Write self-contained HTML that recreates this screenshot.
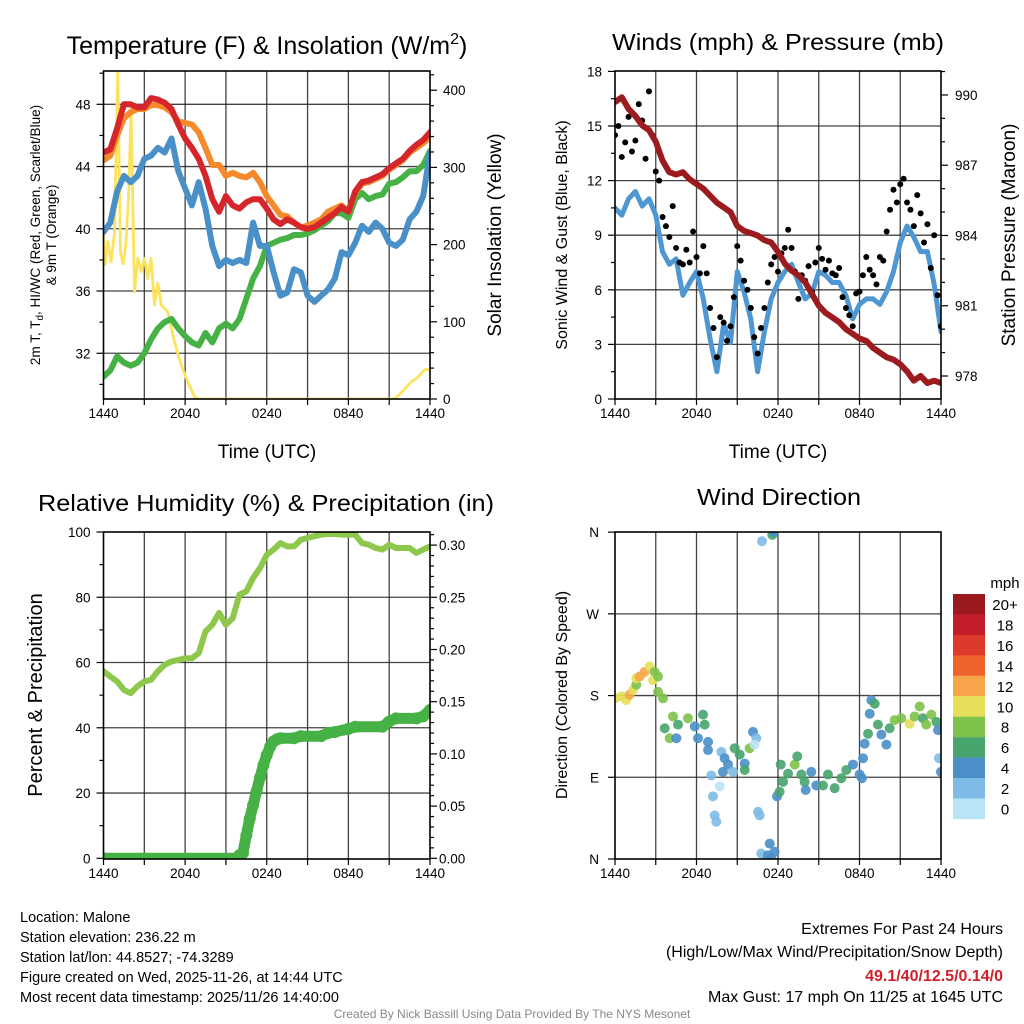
<!DOCTYPE html>
<html><head><meta charset="utf-8"><title>Malone Meteogram</title>
<style>
html,body{margin:0;padding:0;background:#fff;}
svg{display:block;font-family:"Liberation Sans",Arial,sans-serif;}
</style></head>
<body>
<svg id="fig" width="1024" height="1024" viewBox="0 0 1024 1024" xmlns="http://www.w3.org/2000/svg">
<defs>
<clipPath id="c1"><rect x="103.5" y="71" width="326.5" height="328"/></clipPath>
<clipPath id="c2"><rect x="615" y="71" width="326" height="328"/></clipPath>
<clipPath id="c3"><rect x="103.5" y="532" width="326.5" height="327"/></clipPath>
<clipPath id="c4"><rect x="615" y="532" width="326" height="327"/></clipPath>
</defs>
<g id="grid"></g>
<g id="series"></g>
<g id="axes"></g>

<text x="267" y="54" font-size="25" text-anchor="middle">Temperature (F) &amp; Insolation (W/m<tspan dy="-10" font-size="16">2</tspan><tspan dy="10">)</tspan></text>
<text x="778" y="50" font-size="23" text-anchor="middle" textLength="332" lengthAdjust="spacingAndGlyphs">Winds (mph) &amp; Pressure (mb)</text>
<text x="266" y="511" font-size="23" text-anchor="middle" textLength="456" lengthAdjust="spacingAndGlyphs">Relative Humidity (%) &amp; Precipitation (in)</text>
<text x="779" y="505" font-size="23" text-anchor="middle" textLength="164" lengthAdjust="spacingAndGlyphs">Wind Direction</text>

<text x="267" y="458" font-size="19" text-anchor="middle">Time (UTC)</text>
<text x="778" y="458" font-size="19" text-anchor="middle">Time (UTC)</text>

<text transform="translate(40,235) rotate(-90)" font-size="13.5" text-anchor="middle">2m T, T<tspan font-size="10" dy="3">d</tspan><tspan dy="-3">, HI/WC (Red, Green, Scarlet/Blue)</tspan></text>
<text transform="translate(56,235) rotate(-90)" font-size="13.5" text-anchor="middle">&amp; 9m T (Orange)</text>
<text transform="translate(501,235) rotate(-90)" font-size="19" text-anchor="middle">Solar Insolation (Yellow)</text>
<text transform="translate(567,235) rotate(-90)" font-size="16" text-anchor="middle">Sonic Wind &amp; Gust (Blue, Black)</text>
<text transform="translate(1015,235) rotate(-90)" font-size="19" text-anchor="middle">Station Pressure (Maroon)</text>
<text transform="translate(42,695) rotate(-90)" font-size="20" text-anchor="middle">Percent &amp; Precipitation</text>
<text transform="translate(567,695) rotate(-90)" font-size="16" text-anchor="middle">Direction (Colored By Speed)</text>

<g id="cbar"></g>
<text x="1005" y="588" font-size="15" text-anchor="middle">mph</text>

<g font-size="14.5">
<text x="20" y="922">Location: Malone</text>
<text x="20" y="942">Station elevation: 236.22 m</text>
<text x="20" y="962">Station lat/lon: 44.8527; -74.3289</text>
<text x="20" y="982">Figure created on Wed, 2025-11-26, at 14:44 UTC</text>
<text x="20" y="1002">Most recent data timestamp: 2025/11/26 14:40:00</text>
</g>
<g font-size="16" text-anchor="end">
<text x="1003" y="934">Extremes For Past 24 Hours</text>
<text x="1003" y="957">(High/Low/Max Wind/Precipitation/Snow Depth)</text>
<text x="1003" y="981" fill="#d0202a" font-weight="bold">49.1/40/12.5/0.14/0</text>
<text x="1003" y="1002">Max Gust: 17 mph On 11/25 at 1645 UTC</text>
</g>
<text x="512" y="1018" font-size="12" fill="#888" text-anchor="middle">Created By Nick Bassill Using Data Provided By The NYS Mesonet</text>
</svg>

<script>
// ---- data (half-hourly unless noted) ----
const timeLabels = ["1440","2040","0240","0840","1440"];
const tempRed = [44.9,45.1,46.45,48.0,48.0,47.8,47.8,48.4,48.3,48.1,47.7,46.7,45.8,45.2,44.5,43.4,41.9,41.1,42.1,41.5,41.3,41.7,41.9,41.9,41.3,40.6,40.3,40.6,40.4,40.1,40.0,40.1,40.4,40.7,41.0,41.4,41.1,42.4,43.0,43.1,43.3,43.5,43.9,44.2,44.5,45.0,45.4,45.7,46.2];
const temp9mOrange = [44.4,44.7,46.0,47.1,47.5,47.7,47.7,47.95,47.95,47.8,47.5,46.9,46.8,46.7,46.2,45.2,44.1,44.1,43.4,43.6,43.4,43.3,43.6,43.0,42.1,41.5,40.9,40.8,40.4,40.1,40.2,40.4,40.6,41.1,41.3,41.5,41.1,42.3,42.9,43.0,43.2,43.4,43.8,44.1,44.4,44.9,45.2,45.5,45.9];
const dewGreen = [30.5,30.9,31.8,31.4,31.2,31.4,32.0,32.9,33.6,34.0,34.2,33.6,33.1,32.7,32.5,33.3,32.7,33.6,33.9,33.6,34.2,35.5,36.8,37.6,38.9,39.1,39.3,39.4,39.6,39.6,39.7,39.9,40.2,40.5,41.0,41.0,40.7,41.9,42.3,41.9,42.1,42.2,42.9,43.0,43.3,43.7,43.7,44.1,45.0];
const windChillBlue = [39.8,40.4,42.4,43.4,43.0,43.4,44.5,44.7,45.2,44.9,45.8,43.7,42.6,41.5,43.0,41.3,38.9,37.6,38.0,37.8,38.0,37.8,40.4,38.9,38.9,37.2,35.7,35.9,37.4,37.2,35.7,35.3,35.7,36.1,36.8,38.5,38.3,39.1,40.2,39.8,40.4,40.0,39.1,38.9,39.3,40.6,41.1,42.1,44.9];
const insolHours = [0,0.12,0.32,0.56,0.81,1.05,1.25,1.45,1.64,1.84,2.03,2.28,2.52,2.77,3.01,3.26,3.5,3.75,4.0,4.24,4.73,5.22,5.71,6.2,6.69,6.94,21.4,22.1,22.6,23.1,23.6,24];
const insolValues = [212,174,204,178,215,430,190,175,200,260,377,139,182,165,182,156,182,122,150,122,113,74,44,22,3,0,0,12,22,28,38,38];
const pressure = [989.7,989.9,989.4,989.1,988.7,988.5,988.0,987.2,986.7,986.6,986.7,986.4,986.2,986.0,985.7,985.4,985.2,985.0,984.4,984.2,984.1,984.0,983.8,983.7,983.3,982.8,982.5,982.3,982.0,981.5,981.0,980.7,980.5,980.3,980.0,979.8,979.6,979.5,979.2,979.0,978.8,978.7,978.5,978.2,977.8,978.0,977.7,977.8,977.7];
const windSpeed = [10.5,10.1,11.0,11.4,10.6,11.0,10.1,8.1,7.4,7.7,5.7,6.4,7.0,5.5,3.3,1.5,4.1,3.1,7.0,5.9,4.4,1.5,3.7,5.5,6.4,7.0,7.4,6.4,5.5,5.8,7.0,6.8,6.4,6.4,5.7,4.4,5.2,5.5,5.5,5.2,5.9,7.0,8.6,9.5,8.9,8.1,8.1,6.3,3.7];
// gusts: quarter-hourly
const windGust = [14.5,15.0,13.3,14.1,15.5,13.6,14.2,16.2,15.3,13.2,16.9,14.5,12.5,12.0,10.0,9.5,8.9,10.6,8.3,7.5,7.4,8.2,7.5,9.2,7.8,6.9,8.4,6.9,5.0,3.9,2.3,4.5,4.2,3.2,4.0,5.6,8.4,7.6,6.5,6.0,5.0,3.4,2.5,3.9,5.0,6.4,7.4,7.8,7.0,8.0,8.3,9.3,8.3,7.0,5.5,6.8,6.5,7.3,5.9,7.5,8.3,7.7,7.1,7.6,6.9,6.8,7.2,5.6,5.0,4.6,4.0,5.8,5.9,6.8,7.8,7.1,6.8,6.3,7.8,7.6,9.2,10.4,11.5,10.8,11.8,12.1,10.8,10.4,9.5,11.2,10.2,8.6,9.6,7.2,9.0,5.7,4.0];
const rhValues = [57.3,55.7,54.2,51.6,50.6,52.7,54.2,54.7,57.3,59.3,60.3,60.8,61.3,61.3,62.9,69.5,71.6,75.2,71.6,73.6,80.8,81.8,85.9,88.9,93.0,94.6,96.6,95.6,95.6,97.6,98.2,98.7,99.2,99.4,99.4,99.2,99.2,99.2,96.6,96.1,95.1,94.6,96.1,95.1,95.1,95.1,93.6,94.6,95.6];
const precipHours = [0,9.75,10,10.25,10.5,10.75,11,11.25,11.5,11.75,12,12.25,12.5,12.75,13,14,14.5,16,16.5,17,18,18.5,20.5,21,21.5,23,23.5,24];
const precipValues = [0,0,0.003,0.005,0.022,0.038,0.051,0.064,0.077,0.089,0.099,0.107,0.112,0.114,0.115,0.115,0.117,0.117,0.120,0.121,0.124,0.126,0.126,0.131,0.134,0.134,0.136,0.142];
const dirHours = [0,0.47,0.83,1.08,1.33,1.57,1.57,1.82,2.18,2.55,2.92,2.8,3.17,3.17,3.53,3.66,4.02,4.27,4.64,4.52,5.37,5.87,6.11,6.48,6.6,6.85,6.85,7.09,7.21,7.34,7.46,7.83,8.07,7.71,7.95,8.32,8.69,8.81,9.18,9.55,9.55,9.91,10.16,10.4,10.28,10.53,10.65,10.77,11.26,11.39,11.51,11.75,10.82,11.58,11.68,11.93,12.12,12.2,12.37,12.74,13.23,13.42,13.72,13.96,14.04,14.45,14.82,15.31,15.68,16.17,16.66,17.03,17.52,18.01,18.18,18.26,18.38,18.63,18.75,18.87,19.12,19.36,19.61,19.98,20.22,20.59,21.08,21.69,22.06,22.43,22.67,22.91,23.29,23.66,23.78,23.85,24.0];
const dirDegrees = [177,179,175,181,186,192,199,201,206,212,206,197,201,184,177,144,133,157,148,133,155,146,133,159,148,129,120,92,69,48,41,118,111,80,96,104,96,122,115,105,98,122,140,133,126,52,48,6,4,17,1,8,350,357,360,69,74,104,85,94,104,113,93,85,76,96,81,81,93,78,89,98,104,93,89,111,127,138,160,175,171,148,137,126,144,153,155,149,157,168,155,148,159,151,142,111,96];
const dirSpeeds = [10.5,11,11,12.5,11,9,11,13,13,11,9,11,9,8.5,8.5,7,9,9,7,5,9,5,5,7,7,5,5,3,3,3,3,3,5,1,5,5,3,7,7,5,7,9,5,3,1,3,3,3,5,5,5,5,3,7,5,5,7,7,7,7,9,7,7,7,5,5,5,7,7,7,7,7,5,5,5,5,5,7,5,5,7,7,5,5,7,9,9,11,9,9,7,9,9,7,5,3,5];
const cbarLabels = ["20+","18","16","14","12","10","8","6","4","2","0"];
const cbarColors = ["#9b1a1f","#c41e2a","#dd3a2c","#ef6229","#f6a648","#e6df59","#7dc24a","#46a46c","#4a8fc8","#7ebbe6","#b9e3f8"];

// ---- helpers ----
const NS = "http://www.w3.org/2000/svg";
const G = document.getElementById("grid"), S = document.getElementById("series"), A = document.getElementById("axes"), CB = document.getElementById("cbar");
function mk(tag, attrs, parent){ const e=document.createElementNS(NS,tag); for(const k in attrs) e.setAttribute(k,attrs[k]); parent.appendChild(e); return e; }

const P = {
  p1:{x0:103.5,x1:430,y0:71,y1:399},
  p2:{x0:615,x1:941,y0:71,y1:399},
  p3:{x0:103.5,x1:430,y0:532,y1:859},
  p4:{x0:615,x1:941,y0:532,y1:859}
};
function xs(p,h){ return p.x0 + (p.x1-p.x0)*h/24; }
const yTemp = v => 104.3 + (48-v)*15.56;
const yInsol = v => 399 - v*0.772;
const yWind = v => 399 - v*18.2;
const yPres = v => 376 - (v-978)*23.42;
const yRH = v => 858.3 - v*3.263;
const yPrecip = v => 858.3 - v*1044;
const yDir = v => 859 - v*0.908;

function hLine(p,y,name){ const l=mk("line",{x1:p.x0,x2:p.x1,y1:y,y2:y,stroke:"#222","stroke-width":1.3,"stroke-opacity":0.85},G);
  
   }
function vLine(p,x,name){ const l=mk("line",{x1:x,x2:x,y1:p.y0,y2:p.y1,stroke:"#222","stroke-width":1.3,"stroke-opacity":0.85},G);
  
   }
function tick(x1,y1,x2,y2,name){ const l=mk("line",{x1:x1,y1:y1,x2:x2,y2:y2,stroke:"#000","stroke-width":1.2},A);
  
   }
function label(x,y,txt,anchor,name,size){ const t=mk("text",{x:x,y:y,"font-size":size||13.5,"text-anchor":anchor},A); t.textContent=txt;
  
   }
function frame(p,name){ const r=mk("rect",{x:p.x0,y:p.y0,width:p.x1-p.x0,height:p.y1-p.y0,fill:"none",stroke:"#000","stroke-width":1.6},A);
  
   }
function xAxis(p,tag){
  for(let h=3;h<24;h+=3) vLine(p,xs(p,h),tag+"-vgrid");
  for(let h=0;h<=24;h+=3) tick(xs(p,h),p.y1,xs(p,h),p.y1+6,tag+"-x-tick");
  timeLabels.forEach((s,i)=>label(xs(p,i*6),p.y1+19,s,"middle",tag+"-x-tick-label"));
}
function linePath(p,hours,vals,yf,color,w,clip,name){
  let d=""; vals.forEach((v,i)=>{ d+=(i?"L":"M")+xs(p,hours(i)).toFixed(1)+","+yf(v).toFixed(1); });
  const e=mk("path",{d:d,fill:"none",stroke:color,"stroke-width":w,"stroke-linejoin":"round","stroke-linecap":"round","clip-path":"url(#"+clip+")"},S);
  
  
}
const half = i=>i/2;

// ---- Panel 1 ----
[32,36,40,44,48].forEach(v=>hLine(P.p1,yTemp(v),"temp-hgrid"));
xAxis(P.p1,"temp");
for(let v=30;v<=50;v+=2){ const y=yTemp(v); if(y>=P.p1.y0&&y<=P.p1.y1) tick(P.p1.x0,y,P.p1.x0-(v%4===0?7:4),y,"temp-y-tick"); }
[32,36,40,44,48].forEach(v=>label(P.p1.x0-13,yTemp(v)+5,String(v),"end","temp-y-tick-label"));
for(let v=0;v<=420;v+=20){ const y=yInsol(v); if(y>=P.p1.y0) tick(P.p1.x1,y,P.p1.x1+(v%100===0?7:4),y,"insolation-y-tick"); }
[0,100,200,300,400].forEach(v=>label(P.p1.x1+13,yInsol(v)+5,String(v),"start","insolation-y-tick-label"));
linePath(P.p1,i=>insolHours[i],insolValues,yInsol,"#fde35c",2.8,"c1","insolation-line");
linePath(P.p1,half,dewGreen,yTemp,"#46b145",6,"c1","dewpoint-line");
linePath(P.p1,half,windChillBlue,yTemp,"#4a90c8",6,"c1","windchill-line");
linePath(P.p1,half,temp9mOrange,yTemp,"#f5892c",6,"c1","temp-9m-line");
linePath(P.p1,half,tempRed,yTemp,"#d6262b",6,"c1","temp-2m-line");
frame(P.p1,"temperature-plot-frame");

// ---- Panel 2 ----
[3,6,9,12,15].forEach(v=>hLine(P.p2,yWind(v),"wind-hgrid"));
xAxis(P.p2,"wind");
for(let v=0;v<=18;v+=1.5) tick(P.p2.x0,yWind(v),P.p2.x0-(v%3===0?7:4),yWind(v),"wind-y-tick");
[0,3,6,9,12,15,18].forEach(v=>label(P.p2.x0-13,yWind(v)+5,String(v),"end","wind-y-tick-label"));
for(let v=977;v<=991;v++){ const y=yPres(v); if(y>=P.p2.y0&&y<=P.p2.y1) tick(P.p2.x1,y,P.p2.x1+((v-978)%3===0?7:4),y,"pressure-y-tick"); }
[978,981,984,987,990].forEach(v=>label(P.p2.x1+14,yPres(v)+5,String(v),"start","pressure-y-tick-label"));
linePath(P.p2,half,windSpeed,yWind,"#4f97d2",5,"c2","sonic-wind-line");
windGust.forEach((v,i)=>{ const c=mk("circle",{cx:xs(P.p2,i/4),cy:yWind(v),r:3,fill:"#000","clip-path":"url(#c2)"},S);
  
   });
linePath(P.p2,half,pressure,yPres,"#9b1b1e",6,"c2","pressure-line");
frame(P.p2,"winds-plot-frame");

// ---- Panel 3 ----
[20,40,60,80].forEach(v=>hLine(P.p3,yRH(v),"rh-hgrid"));
xAxis(P.p3,"rh");
for(let v=0;v<=100;v+=10) tick(P.p3.x0,yRH(v),P.p3.x0-(v%20===0?7:4),yRH(v),"rh-y-tick");
[0,20,40,60,80,100].forEach(v=>label(P.p3.x0-13,yRH(v)+5,String(v),"end","rh-y-tick-label"));
for(let k=0;k<=31;k++){ const v=k/100, y=yPrecip(v); if(y>=P.p3.y0) tick(P.p3.x1,y,P.p3.x1+(k%5===0?7:4),y,"precip-y-tick"); }
["0.00","0.05","0.10","0.15","0.20","0.25","0.30"].forEach(s=>label(P.p3.x1+9,yPrecip(parseFloat(s))+5,s,"start","precip-y-tick-label"));
linePath(P.p3,half,rhValues,yRH,"#8dc84c",6,"c3","rh-line");
linePath(P.p3,i=>precipHours[i],precipValues,yPrecip,"#46b145",11,"c3","precip-line");
precipValues.forEach((v,i)=>{ const c=mk("circle",{cx:xs(P.p3,precipHours[i]),cy:yPrecip(v),r:6,fill:"#46b145","clip-path":"url(#c3)"},S);
  
   });
frame(P.p3,"humidity-plot-frame");

// ---- Panel 4 ----
[90,180,270].forEach(v=>hLine(P.p4,yDir(v),"direction-hgrid"));
xAxis(P.p4,"direction");
const dirLabels=["N","E","S","W","N"];
dirLabels.forEach((s,i)=>{ tick(P.p4.x0,yDir(i*90),P.p4.x0-7,yDir(i*90),"direction-y-tick"); label(P.p4.x0-16,yDir(i*90)+5,s,"end","direction-y-tick-label"); });
function spdColor(s){ let k=Math.min(10,Math.floor(s/2)); return cbarColors[10-k]; }
dirDegrees.forEach((v,i)=>{ const c=mk("circle",{cx:xs(P.p4,dirHours[i]),cy:yDir(v),r:5,fill:spdColor(dirSpeeds[i]),"fill-opacity":0.9,"clip-path":"url(#c4)"},S);
  
   });
frame(P.p4,"direction-plot-frame");

// ---- colorbar ----
cbarColors.forEach((col,i)=>{ const r=mk("rect",{x:953,y:594+i*20.45,width:32,height:20.6,fill:col},CB);
  
  
  const t=mk("text",{x:1005,y:594+i*20.45+16,"font-size":15,"text-anchor":"middle"},CB); t.textContent=cbarLabels[i];
  
   });
</script>
</body></html>
